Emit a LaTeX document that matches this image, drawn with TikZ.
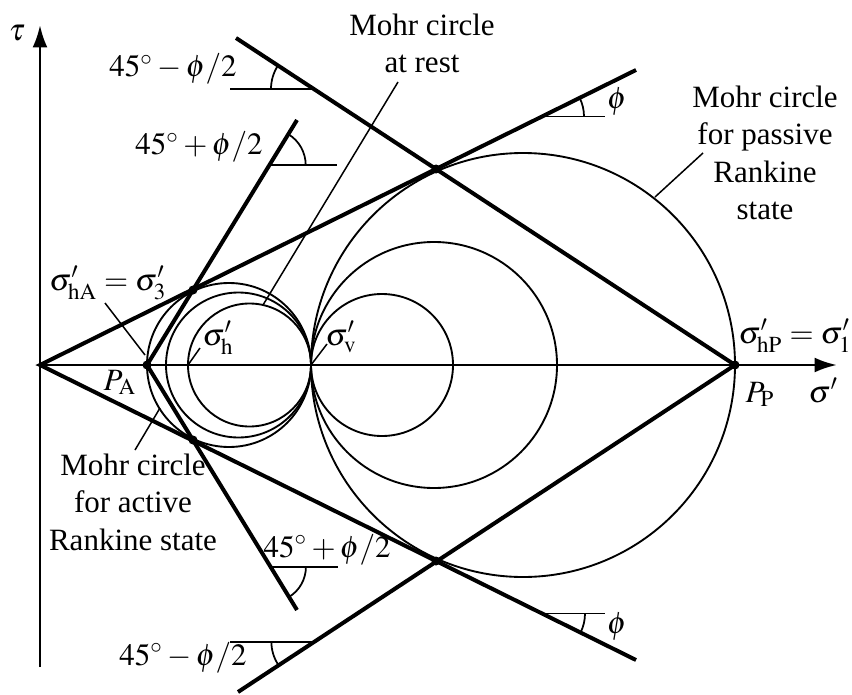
\documentclass[tikz,border=0pt]{standalone}
\usepackage{mathptmx}
\usepackage{fontspec}
\setmainfont{Liberation Serif}
\usetikzlibrary{arrows.meta}

\begin{document}
\begin{tikzpicture}[x=0.4pt,y=0.4pt,font=\fontsize{12.4}{15}\selectfont,
  axis/.style={line width=1.1pt},
  envelope/.style={line width=1.6pt},
  mohr/.style={line width=0.75pt},
  leader/.style={line width=0.6pt},
  marker/.style={line width=0.7pt},
  lbl/.style={inner sep=0pt},
  txt/.style={inner sep=0pt,align=center,anchor=north}]
\useasboundingbox (-40,-329) rectangle (812,365);

\coordinate (O) at (0,0);
\coordinate (PA) at (107,0);
\coordinate (SV) at (271,0);
\coordinate (PP) at (695,0);
\coordinate (TA) at (153,75);
\coordinate (TAb) at (153,-75);
\coordinate (TP) at (396,196);
\coordinate (TPb) at (396,-196);
\coordinate (Eu) at (596,295);
\coordinate (El) at (596,-295);
\coordinate (Au) at (257,245);
\coordinate (Al) at (257,-245);
\coordinate (Pu) at (196,327);
\coordinate (Pl) at (198,-327);
\coordinate (tb) at (0,-302);
\coordinate (tt) at (0,340);
\coordinate (se) at (797,0);

% axes
\draw[axis,-{Latex[length=9pt,width=6pt]}] (tb) -- (tt);
\draw[axis,-{Latex[length=9pt,width=6pt]}] (O) -- (se);

% Mohr circles
\draw[mohr] (209.5,0) circle[radius=61.5];
\draw[mohr] (198.5,0) circle[radius=72.5];
\draw[mohr] (189,0) circle[radius=82];
\draw[mohr] (342,0) circle[radius=71];
\draw[mohr] (394,0) circle[radius=123];
\draw[mohr] (483,0) circle[radius=212];

% failure envelopes and slip lines
\draw[envelope] (Eu) -- (O) -- (El);
\draw[envelope] (Au) -- (PA) -- (Al);
\draw[envelope] (Pu) -- (PP) -- (Pl);

\foreach \p in {PA,PP,TA,TAb,TP,TPb}
  \fill (\p) circle[radius=4.5];

% angles
\draw[marker] (190,276) -- (274,276);
\draw[marker] (231,276) arc[start angle=180,end angle=146.8,radius=43];
\draw[marker] (229.7,200) -- (297,200);
\draw[marker] (265.7,200) arc[start angle=0,end angle=58.5,radius=36];
\draw[marker] (502,248.5) -- (565,248.5);
\draw[marker] (544,248.5) arc[start angle=0,end angle=26.3,radius=42];
\draw[marker] (230.9,-202) -- (298,-202);
\draw[marker] (265.9,-202) arc[start angle=0,end angle=-58.5,radius=35];
\draw[marker] (190,-277) -- (272.4,-277);
\draw[marker] (231.4,-277) arc[start angle=180,end angle=213.2,radius=41];
\draw[marker] (502,-248.5) -- (565,-248.5);
\draw[marker] (545,-248.5) arc[start angle=0,end angle=-26.3,radius=43];

\node[lbl,anchor=base east] (a1) at (197,288) {$45^\circ - \phi/2$};
\node[lbl,anchor=base east] (a2) at (223,210) {$45^\circ + \phi/2$};
\node[lbl,anchor=base west] (a3) at (223,-192) {$45^\circ + \phi/2$};
\node[lbl,anchor=base east] (a4) at (207,-300) {$45^\circ - \phi/2$};
\node[lbl] (f1) at (577,263) {$\phi$};
\node[lbl] (f2) at (577,-262) {$\phi$};
\node[lbl] (tau) at (-23,332) {$\tau$};

\node[txt] (rest) at (382,352) {Mohr circle\\at rest};
\node[txt] (pas) at (725,280) {Mohr circle\\for passive\\Rankine\\state};
\node[txt] (act) at (93,-88) {Mohr circle\\for active\\Rankine state};

\node[lbl,anchor=base] (sha) at (68,75) {$\sigma'_{\mathrm{hA}} = \sigma'_3$};
\node[lbl,anchor=base west] (sh) at (162,20) {$\sigma'_{\mathrm{h}}$};
\node[lbl,anchor=base west] (sv) at (285,20) {$\sigma'_{\mathrm{v}}$};
\node[lbl,anchor=base west] (pa) at (63,-25) {$P_{\mathrm{A}}$};
\node[lbl,anchor=base west] (shp) at (698,22) {$\sigma'_{\mathrm{hP}} = \sigma'_1$};
\node[lbl,anchor=base west] (pp) at (705,-37) {$P_{\mathrm{P}}$};
\node[lbl,anchor=base west] (sg) at (768,-37) {$\sigma'$};

% leaders
\coordinate (r1) at (358,283);
\coordinate (r2) at (223,60);
\coordinate (p1) at (663,212);
\coordinate (p2) at (615,168);
\coordinate (c1) at (95,-85);
\coordinate (c2) at (120,-43);
\coordinate (h1) at (65,62);
\coordinate (h2) at (105,10);
\coordinate (s1) at (148,0);
\coordinate (s2) at (160,17);
\coordinate (v2) at (287,21);
\draw[leader] (r1) -- (r2);
\draw[leader] (p1) -- (p2);
\draw[leader] (c1) -- (c2);
\draw[leader] (h1) -- (h2);
\draw[leader] (s1) -- (s2);
\draw[leader] (SV) -- (v2);
\end{tikzpicture}
\end{document}
